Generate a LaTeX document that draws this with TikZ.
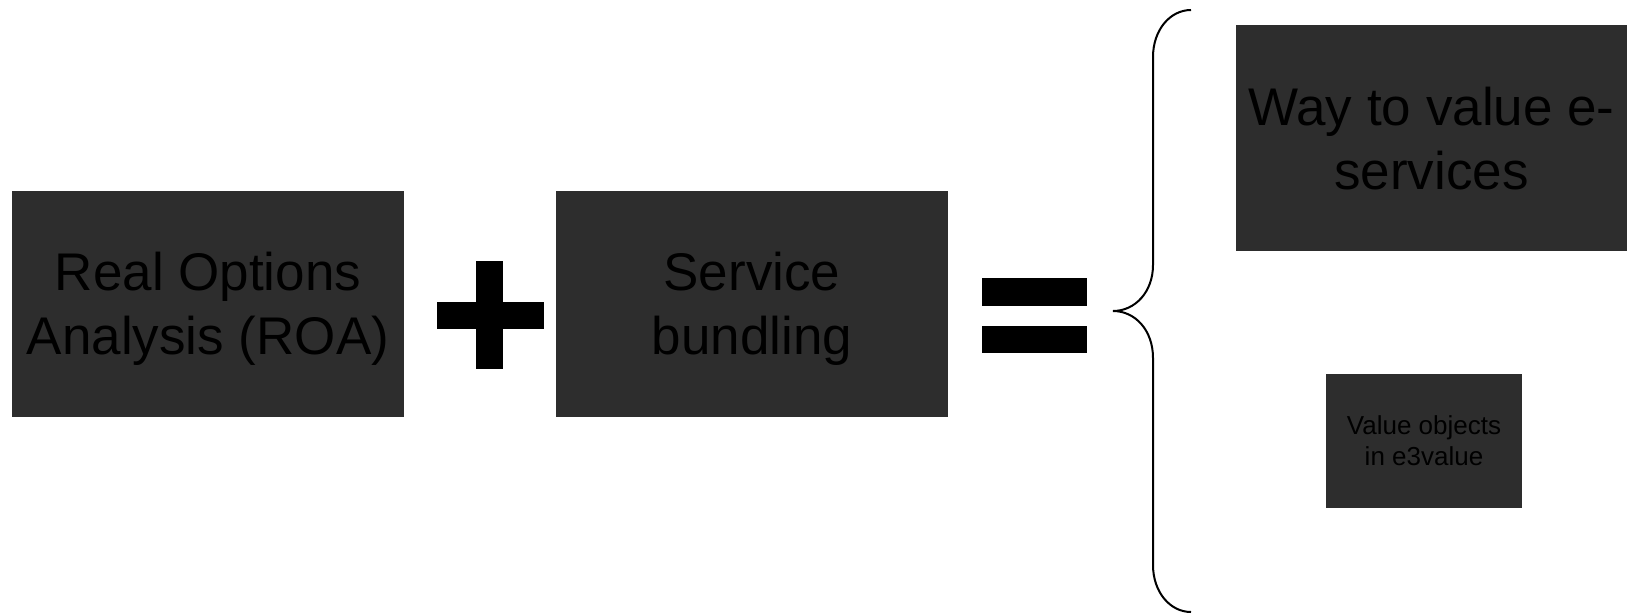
\documentclass[tikz,border=0pt]{standalone}
\usepackage{fontspec}
\setmainfont{Liberation Sans}
\definecolor{boxgray}{HTML}{2D2D2D}
\newcommand{\twolines}[3]{\raisebox{-#1}[\height][\depth]{\begin{tabular}{@{}c@{}}#2\\#3\end{tabular}}}
\tikzset{
  box/.style={fill=boxgray, draw=none, inner sep=0pt, text=black},
  bigtext/.style={font=\fontsize{53}{64}\selectfont},
  smalltext/.style={font=\fontsize{26}{31}\selectfont},
  bar/.style={fill=black, draw=none},
  bracestyle/.style={draw=black, line width=2pt}
}
\begin{document}
\begin{tikzpicture}[x=1pt, y=-1pt]
\useasboundingbox (0,0) rectangle (1627,615);
% boxes
\node[box, bigtext, minimum width=392pt, minimum height=226pt] (roa) at (208,304) {\twolines{6pt}{Real Options}{Analysis (ROA)}};
\node[box, bigtext, minimum width=392pt, minimum height=226pt] (bund) at (752,304) {\twolines{6pt}{Service}{bundling}};
\node[box, bigtext, minimum width=391pt, minimum height=226pt] (way) at (1431.5,138) {\twolines{7pt}{Way to value e-}{services}};
\node[box, smalltext, minimum width=196pt, minimum height=134pt] (vo) at (1424,441) {\twolines{3pt}{Value objects}{in e3value}};
% plus sign
\fill[bar] (437,302) rectangle (544,329);
\fill[bar] (476,261) rectangle (503,369);
% equals sign
\fill[bar] (982,278) rectangle (1087,306);
\fill[bar] (982,326) rectangle (1087,353);
% brace
\coordinate (btop) at (1191,10);
\coordinate (btip) at (1113,311);
\coordinate (bbot) at (1191,612);
\draw[bracestyle] (btop) .. controls (1170,10) and (1153,30) .. (1153,57)
  -- (1153,265) .. controls (1153,292) and (1135,311) .. (btip)
  .. controls (1135,311) and (1153,330) .. (1153,358)
  -- (1153,565) .. controls (1153,592) and (1170,612) .. (bbot);
\end{tikzpicture}
\end{document}
